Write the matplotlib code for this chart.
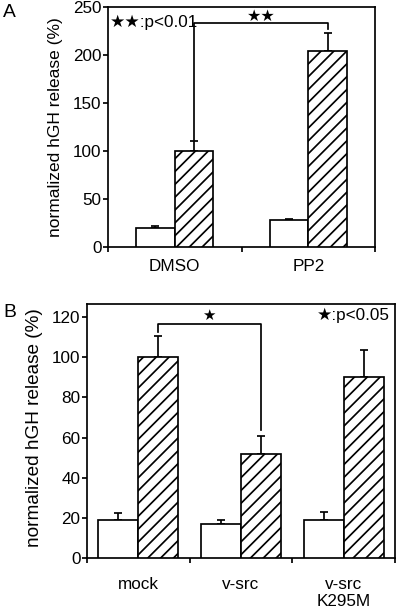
import matplotlib.pyplot as plt
import numpy as np

# Panel A: DMSO vs PP2
a_groups = ['DMSO', 'PP2']
a_ctrl = [20, 28]
a_ctrl_err = [2, 1]
a_stim = [100, 204]
a_stim_err = [10, 19]

# Panel B: mock / v-src / v-src K295M
b_groups = ['mock', 'v-src', 'v-src\nK295M']
b_ctrl = [19, 17, 19]
b_ctrl_err = [3.5, 2, 4]
b_stim = [100, 52, 90]
b_stim_err = [10.5, 9, 13.5]

DPI = 77
plt.rcParams['font.family'] = ['Liberation Sans', 'DejaVu Sans']
plt.rcParams['hatch.linewidth'] = 1.6
lw = 1.6

fig = plt.figure(figsize=(400 / DPI, 611 / DPI), dpi=DPI)


def draw_panel(ax, groups, ctrl, ctrl_err, stim, stim_err, width, xpad):
    x = np.arange(len(groups))
    ax.bar(x - width / 2, ctrl, width, color='white', edgecolor='black', linewidth=lw, zorder=3)
    ax.bar(x + width / 2, stim, width, color='white', edgecolor='black', hatch='//', linewidth=lw, zorder=3)
    ax.errorbar(x - width / 2, ctrl, yerr=[np.zeros(len(x)), ctrl_err], fmt='none',
                ecolor='black', elinewidth=lw, capsize=3.5, capthick=lw, zorder=2)
    ax.errorbar(x + width / 2, stim, yerr=[np.zeros(len(x)), stim_err], fmt='none',
                ecolor='black', elinewidth=lw, capsize=3.5, capthick=lw, zorder=2)
    ax.set_xlim(-0.5, len(groups) - 0.5)
    ax.set_xticks(x)
    ax.set_xticklabels(groups, fontsize=16, linespacing=1.15)
    ax.set_xticks(np.arange(len(groups) + 1) - 0.5, minor=True)
    ax.tick_params(axis='x', which='major', length=0, pad=xpad)
    ax.tick_params(axis='x', which='minor', length=5, width=lw, direction='out')
    ax.tick_params(axis='y', length=5, width=lw, direction='out', labelsize=16, pad=1)
    for s in ax.spines.values():
        s.set_linewidth(lw)
    return x


# ---- Panel A ----
axA = fig.add_axes([0.27, 0.5957, 0.6675, 0.3928])
wA = 0.29
xA = draw_panel(axA, a_groups, a_ctrl, a_ctrl_err, a_stim, a_stim_err, wA, 11)
axA.set_ylim(0, 250)
axA.set_yticks([0, 50, 100, 150, 200, 250])
axA.set_ylabel('normalized hGH release (%)', fontsize=16.2)
axA.yaxis.set_label_coords(-0.169, 0.5)

l = xA[0] + wA / 2
r = xA[1] + wA / 2
axA.plot([l, l, r, r], [a_stim[0] + a_stim_err[0] + 2, 233, 233, 227],
         color='black', lw=lw, clip_on=False)
axA.text((l + r) / 2, 240, '★★', fontsize=15, ha='center', va='center')
axA.text(0.006, 0.937, '★★:p<0.01', transform=axA.transAxes, fontsize=16,
         ha='left', va='center')

# ---- Panel B ----
axB = fig.add_axes([0.2175, 0.0867, 0.77, 0.4157])
wB = 0.39
xB = draw_panel(axB, b_groups, b_ctrl, b_ctrl_err, b_stim, b_stim_err, wB, 18)
axB.set_ylim(0, 126.5)
axB.set_yticks([0, 20, 40, 60, 80, 100, 120])
axB.set_ylabel('normalized hGH release (%)', fontsize=17.8)
axB.yaxis.set_label_coords(-0.143, 0.514)

l = xB[0] + wB / 2
r = xB[1] + wB / 2
axB.plot([l, l, r, r], [b_stim[0] + b_stim_err[0] + 2, 116.5, 116.5, 64],
         color='black', lw=lw, clip_on=False)
axB.text(0.69, 120.5, '★', fontsize=14, ha='center', va='center')
axB.text(0.984, 0.957, '★:p<0.05', transform=axB.transAxes, fontsize=16,
         ha='right', va='center')

fig.text(0.008, 0.979, 'A', fontsize=18, ha='left', va='center')
fig.text(0.008, 0.488, 'B', fontsize=18, ha='left', va='center')

fig.savefig('out.png', dpi=DPI)
